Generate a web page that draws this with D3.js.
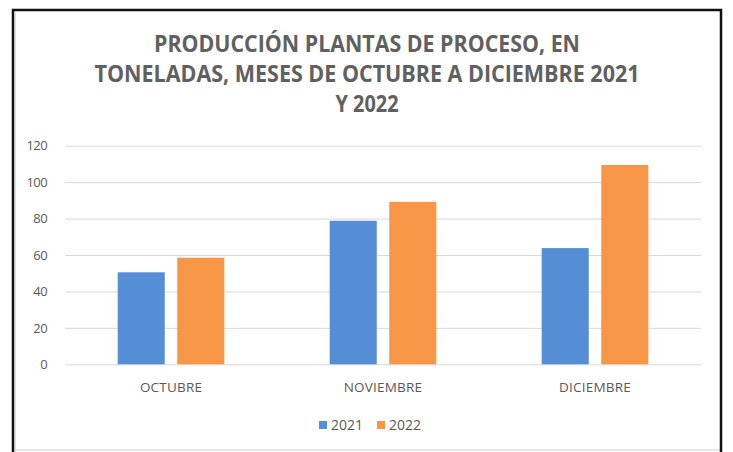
<!DOCTYPE html>
<html>

<head>
  <meta charset="utf-8">
  <title>Producción plantas de proceso</title>
  <style>
    body {
      margin: 0;
      background-color: #ffffff;
      font-family: 'Open Sans', 'Noto Sans', sans-serif;
    }

    .grid line {
      stroke: #d9d9d9;
      stroke-width: 1;
    }

    .label {
      fill: #595959;
    }
  </style>
</head>

<body>
  <div id="chart"></div>

  <script src="https://d3js.org/d3.v7.min.js"></script>
  <script>
    var months = ["OCTUBRE", "NOVIEMBRE", "DICIEMBRE"];
    var series = ["2021", "2022"];
    var values2021 = [50.5, 78.8, 63.8];
    var values2022 = [58.5, 89.2, 109.4];
    var yTicks = [0, 20, 40, 60, 80, 100, 120];
    var titleLines = [
      "PRODUCCIÓN PLANTAS DE PROCESO, EN",
      "TONELADAS, MESES DE OCTUBRE A DICIEMBRE 2021",
      "Y 2022"
    ];

    var width = 733,
      height = 452;

    var colors = {
      '2021': '#558ed5',
      '2022': '#f79646'
    };

    var plot = {
      left: 65,
      right: 701,
      top: 145.7,
      bottom: 364.3
    };

    var rows = months.map(function(m, i) {
      return {
        month: m,
        '2021': values2021[i],
        '2022': values2022[i]
      };
    });

    var svg = d3.select("#chart").append("svg")
      .attr("width", width)
      .attr("height", height);

    // frame
    svg.append("line")
      .attr("x1", 12).attr("x2", 722).attr("y1", 450).attr("y2", 450)
      .attr("stroke", "#d0d0d0").attr("stroke-width", 1);
    svg.append("path")
      .attr("d", "M13,452 L13,10 L721,10 L721,452")
      .attr("fill", "none")
      .attr("stroke", "#111")
      .attr("stroke-width", 2.5);
    svg.append("line")
      .attr("x1", 15.5).attr("x2", 15.5).attr("y1", 12).attr("y2", 452)
      .attr("stroke", "#e0e0e0").attr("stroke-width", 1);

    // title
    var titleWidths = [426, 545, 63];
    svg.append("g").selectAll("text")
      .data(titleLines)
      .enter().append("text")
      .attr("class", "label")
      .attr("x", 367)
      .attr("y", function(d, i) {
        return 52 + i * 30;
      })
      .attr("text-anchor", "middle")
      .attr("textLength", function(d, i) {
        return titleWidths[i];
      })
      .attr("lengthAdjust", "spacingAndGlyphs")
      .style("font-size", "23px")
      .style("font-weight", "bold")
      .style("fill", "#606060")
      .text(function(d) {
        return d;
      });

    var x = d3.scaleBand()
      .domain(months)
      .range([plot.left, plot.right]);

    var bw = x.bandwidth();
    var xs = d3.scaleBand()
      .domain(series)
      .range([bw * 0.2485, bw * 0.7515])
      .paddingInner(0.21);

    var y = d3.scaleLinear()
      .domain([0, 120])
      .range([plot.bottom, plot.top]);

    // gridlines
    svg.append("g")
      .attr("class", "grid")
      .attr("transform", "translate(" + plot.left + ",0)")
      .call(d3.axisLeft(y).tickValues(yTicks).tickSize(-(plot.right - plot.left)).tickFormat(""))
      .call(function(g) {
        g.select(".domain").remove();
      });

    // y labels
    svg.append("g")
      .attr("transform", "translate(47,0)")
      .call(d3.axisLeft(y).tickValues(yTicks).tickSize(0).tickPadding(0))
      .call(function(g) {
        g.select(".domain").remove();
        g.selectAll("text")
          .attr("class", "label")
          .attr("text-anchor", "end")
          .style("font-size", "13px")
          .style("letter-spacing", "-0.6px")
          .style("font-family", "'Open Sans', sans-serif");
      });

    // bars
    var groups = svg.append("g").selectAll("g")
      .data(rows)
      .enter().append("g")
      .attr("transform", function(d) {
        return "translate(" + x(d.month) + ",0)";
      });

    groups.selectAll("rect")
      .data(function(d) {
        return series.map(function(s) {
          return {
            key: s,
            value: d[s]
          };
        });
      })
      .enter().append("rect")
      .attr("x", function(d) {
        return xs(d.key);
      })
      .attr("y", function(d) {
        return y(d.value);
      })
      .attr("width", xs.bandwidth())
      .attr("height", function(d) {
        return y(0) - y(d.value);
      })
      .style("fill", function(d) {
        return colors[d.key];
      });

    // category labels
    svg.append("g").selectAll("text")
      .data(months)
      .enter().append("text")
      .attr("class", "label")
      .attr("x", function(d) {
        return x(d) + bw / 2;
      })
      .attr("y", 392)
      .attr("text-anchor", "middle")
      .style("font-size", "13.5px")
      .style("letter-spacing", "0.2px")
      .text(function(d) {
        return d;
      });

    // legend
    var legendX = [319, 377];
    var lg = svg.append("g").selectAll("g")
      .data(series)
      .enter().append("g")
      .attr("transform", function(d, i) {
        return "translate(" + legendX[i] + ",421)";
      });

    lg.append("rect")
      .attr("width", 8)
      .attr("height", 8)
      .style("fill", function(d) {
        return colors[d];
      });

    lg.append("text")
      .attr("class", "label")
      .attr("x", 12)
      .attr("y", 9)
      .style("font-size", "14px")
      .text(function(d) {
        return d;
      });
  </script>
</body>

</html>
